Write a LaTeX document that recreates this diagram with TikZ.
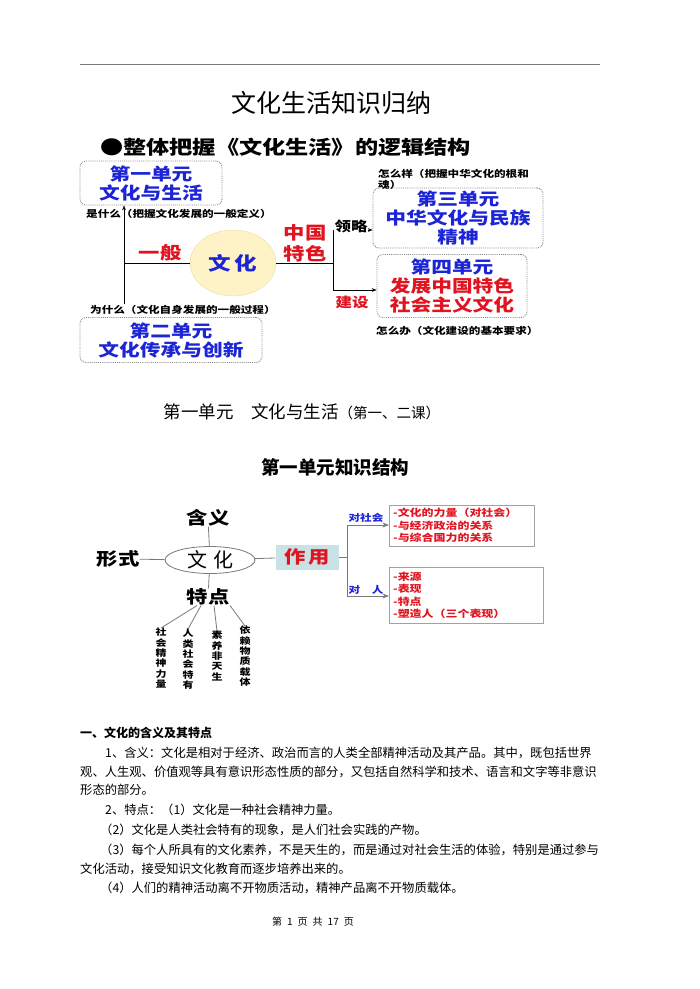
\documentclass[tikz,border=0pt]{standalone}
\usepackage{fontspec}
\setmainfont{Noto Sans CJK SC}
\newfontfamily\squat{Noto Sans CJK SC}[FakeStretch=1.22]
\usetikzlibrary{arrows.meta,positioning,shapes.geometric,calc}
\definecolor{unitblue}{HTML}{1C24D6}
\definecolor{unitred}{HTML}{E01420}
\definecolor{dotgray}{HTML}{8A8A8A}
\definecolor{linegray}{HTML}{7A7A7A}
\definecolor{corefill}{HTML}{FDF3C6}
\definecolor{corerim}{HTML}{EADCA0}
\definecolor{rolefill}{HTML}{C9E2E5}

\begin{document}
\begin{tikzpicture}[x=1pt,y=-1pt,>=Stealth,
 unit/.style={draw=dotgray,densely dotted,line width=0.9pt,rounded corners=6pt,align=center,inner sep=0pt,font=\squat\fontsize{17}{19}\selectfont\bfseries},
 memo/.style={font=\squat\fontsize{9.5}{11}\selectfont\bfseries,inner sep=0pt,anchor=base west},
 tag/.style={font=\squat\fontsize{13.5}{15}\selectfont\bfseries,inner sep=1pt},
 hub/.style={font=\squat\fontsize{17.5}{21}\selectfont\bfseries,inner sep=0pt},
 item/.style={draw=linegray!70,align=left,inner xsep=4pt,inner ysep=3pt,font=\squat\fontsize{9.8}{12.5}\selectfont\bfseries,text=unitred,anchor=north west},
 trait/.style={align=center,inner sep=0pt,anchor=north,font=\squat\fontsize{9}{10.3}\selectfont\bfseries},
 link/.style={draw=linegray,line width=0.8pt},
 body/.style={font=\fontsize{12.3}{14}\selectfont,inner sep=0pt,anchor=base west}]

\useasboundingbox[fill=white] (0,0) rectangle (700,989);

% page head
\coordinate (ruleL) at (80,64);
\coordinate (ruleR) at (600,64);
\draw[linegray,line width=0.8pt] (ruleL) -- (ruleR);
\node[font=\fontsize{25}{26}\selectfont] (title) at (331,103) {文化生活知识归纳};
\node[font=\squat\fontsize{19}{22}\selectfont\bfseries,anchor=west,inner sep=0pt] (lead) at (100,147) {●整体把握《文化生活》的逻辑结构};

% overview of the four units
\node[unit,text=unitblue,minimum width=142,minimum height=44] (u1) at (151,183) {第一单元\\文化与生活};
\node[unit,text=unitblue,minimum width=182,minimum height=45] (u2) at (171,340) {第二单元\\文化传承与创新};
\node[unit,text=unitblue,minimum width=170,minimum height=60] (u3) at (458,218) {第三单元\\中华文化与民族\\精神};
\node[unit,text=unitred,minimum width=150,minimum height=63] (u4) at (452,286) {{\color{unitblue}第四单元}\\发展中国特色\\社会主义文化};
\node[ellipse,fill=corefill,draw=corerim,minimum width=86,minimum height=66,inner sep=0pt,font=\squat\fontsize{18.5}{20}\selectfont\bfseries,text=unitblue] (core) at (233,263) {文\hspace{3pt}化};
\node[hub,text=unitred] (general) at (160,253) {一般};
\node[hub,text=unitred,align=center] (china) at (305,243) {中国\\特色};

\coordinate (ljoin) at (124,263);
\coordinate (ldown) at (124,304);
\draw[->] (ldown) -- (u1.south -| ljoin);
\draw (ljoin) -- (core.west);

\coordinate (rjoin) at (333,263);
\coordinate (rup) at (333,230);
\coordinate (rdown) at (333,290);
\draw (core.east) -- (rjoin);
\draw (rup) -- (rdown);
\draw[->] (rup) -- (rup -| u3.west);
\draw[->] (rdown) -- (rdown -| u4.west);
\node[tag,fill=white] (glance) at (351,226) {领略};
\node[tag,text=unitred] (build) at (352,302) {建设};

\node[memo] (what) at (86,217) {是什么（把握文化发展的一般定义）};
\node[memo] (why) at (90,313) {为什么（文化自身发展的一般过程）};
\node[memo,align=left,anchor=north west] (how) at (378,169) {怎么样（把握中华文化的根和\\魂）};
\node[memo] (todo) at (376,334) {怎么办（文化建设的基本要求）};

% unit one
\node[anchor=base,inner sep=0pt] (unitone) at (302,418) {{\fontsize{17.5}{18}\selectfont 第一单元　文化与生活}{\fontsize{14.5}{15}\selectfont（第一、二课）}};
\node[font=\fontsize{18.5}{19}\selectfont\bfseries] (struct) at (335,467) {第一单元知识结构};

\node[ellipse,draw=linegray,line width=0.8pt,minimum width=90,minimum height=27,inner sep=0pt,font=\fontsize{20}{21}\selectfont] (culture) at (210,560) {文\hspace{6pt}化};
\node[hub] (meaning) at (208,518) {含义};
\node[hub] (form) at (118,559) {形式};
\node[hub] (trait) at (208,597) {特点};
\node[hub,fill=rolefill,text=unitred,minimum width=63,minimum height=25] (role) at (307,557) {作\hspace{3pt}用};
\draw[link] (meaning) -- (culture);
\draw[link] (form) -- (culture);
\draw[link] (culture) -- (trait);
\draw[link] (culture) -- (role);

\node[item,text width=137] (soc) at (389,505) {-文化的力量（对社会）\\-与经济政治的关系\\-与综合国力的关系};
\node[item,text width=146,minimum height=56] (man) at (389,567) {-来源\\-表现\\-特点\\-塑造人（三个表现）};
\coordinate (split) at (347,557);
\coordinate (tosoc) at (347,525);
\coordinate (toman) at (347,596);
\draw[link] (role.east) -- (split);
\draw[link] (tosoc) -- (toman);
\draw[link,->] (tosoc) -- (tosoc -| soc.west);
\draw[link,->] (toman) -- (toman -| man.west);
\node[font=\squat\fontsize{9.5}{11}\selectfont\bfseries,text=unitblue,inner sep=0pt] (forsoc) at (366,518) {对社会};
\node[font=\squat\fontsize{9.5}{11}\selectfont\bfseries,text=unitblue,inner sep=0pt] (forman) at (366,590) {对　人};

\node[trait] (t1) at (161,628) {社\\会\\精\\神\\力\\量};
\node[trait] (t2) at (188,629) {人\\类\\社\\会\\特\\有};
\node[trait] (t3) at (217,631) {素\\养\\非\\天\\生};
\node[trait] (t4) at (245,626) {依\\赖\\物\\质\\载\\体};
\draw[link] ($(trait.south)+(-11,0)$) -- (t1.north);
\draw[link] ($(trait.south)+(-7,0)$) -- (t2.north);
\draw[link] ($(trait.south)+(6,0)$) -- (t3.north);
\draw[link] ($(trait.south)+(22,0)$) -- (t4.north);

% body text
\node[body,font=\fontsize{12}{14}\selectfont\bfseries] (sec1) at (80,737) {一、文化的含义及其特点};
\node[body] (p1) at (105,757) {1、含义：文化是相对于经济、政治而言的人类全部精神活动及其产品。其中，既包括世界};
\node[body] (p2) at (80,776) {观、人生观、价值观等具有意识形态性质的部分，又包括自然科学和技术、语言和文字等非意识};
\node[body] (p3) at (80,794) {形态的部分。};
\node[body] (p4) at (105,814) {2、特点：（1）文化是一种社会精神力量。};
\node[body] (p5) at (100,834) {（2）文化是人类社会特有的现象，是人们社会实践的产物。};
\node[body] (p6) at (100,854) {（3）每个人所具有的文化素养，不是天生的，而是通过对社会生活的体验，特别是通过参与};
\node[body] (p7) at (80,873) {文化活动，接受知识文化教育而逐步培养出来的。};
\node[body] (p8) at (100,892) {（4）人们的精神活动离不开物质活动，精神产品离不开物质载体。};
\node[font=\fontsize{10}{11}\selectfont,inner sep=0pt] (foot) at (313,922) {第\hspace{5pt}1\hspace{5pt}页\hspace{5pt}共\hspace{5pt}17\hspace{5pt}页};
\end{tikzpicture}
\end{document}
